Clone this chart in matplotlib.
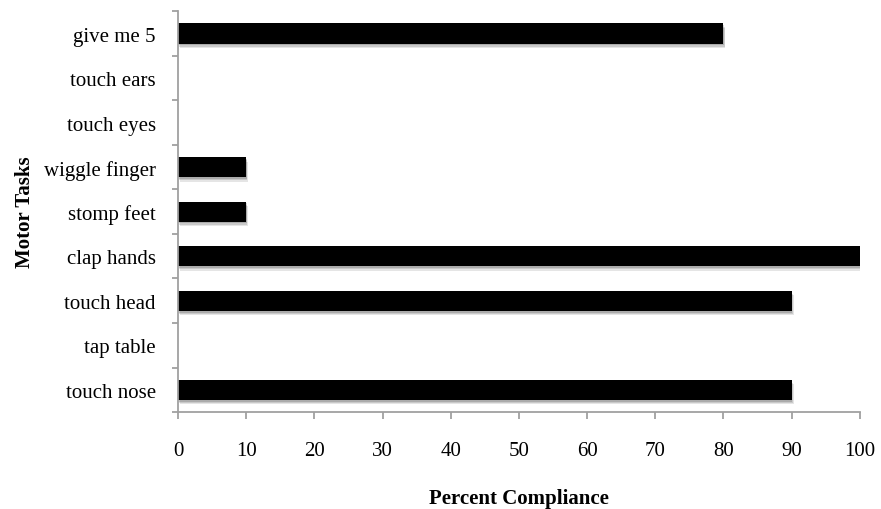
import numpy as np
import matplotlib.pyplot as plt

# categories listed bottom to top
tasks = ['touch nose', 'tap table', 'touch head', 'clap hands', 'stomp feet',
         'wiggle finger', 'touch eyes', 'touch ears', 'give me 5']
compliance = [90, 0, 90, 100, 10, 10, 0, 0, 80]
xticks = [0, 10, 20, 30, 40, 50, 60, 70, 80, 90, 100]

plt.rcParams['font.family'] = ['Liberation Serif', 'DejaVu Serif']

fig = plt.figure(figsize=(8.81, 5.1), dpi=100)
ax = fig.add_axes([0.202, 0.19, 0.774, 0.786])

y = np.arange(len(tasks))
h = 0.45

# soft shadow under the bars
for dx, dy, a in [(0.9, 0.10, 0.10), (0.6, 0.07, 0.12), (0.3, 0.04, 0.15)]:
    ax.barh(y - dy, compliance, left=dx * 0.3, height=h, color='#000000',
            alpha=a, linewidth=0, zorder=1)
ax.barh(y, compliance, height=h, color='black', linewidth=0, zorder=2)

ax.set_xlim(0, 100)
ax.set_ylim(-0.5, len(tasks) - 0.5)
ax.set_xticks(xticks)
ax.set_yticks(y)
ax.set_yticklabels(tasks)
ax.set_yticks(np.arange(-0.5, len(tasks), 1), minor=True)

for s in ['top', 'right']:
    ax.spines[s].set_visible(False)
for s in ['left', 'bottom']:
    ax.spines[s].set_color('#a0a0a0')
    ax.spines[s].set_linewidth(1.3)

ax.tick_params(axis='y', which='major', length=0, labelsize=15, pad=16)
ax.tick_params(axis='y', which='minor', length=4, width=1.3, color='#a0a0a0')
ax.tick_params(axis='x', length=5, width=1.3, color='#a0a0a0', labelsize=15, pad=16)

ax.set_xlabel('Percent Compliance', fontsize=15, fontweight='bold', labelpad=20)
ax.set_ylabel('Motor Tasks', fontsize=15, fontweight='bold', labelpad=6)

fig.savefig('out.png', dpi=100)
